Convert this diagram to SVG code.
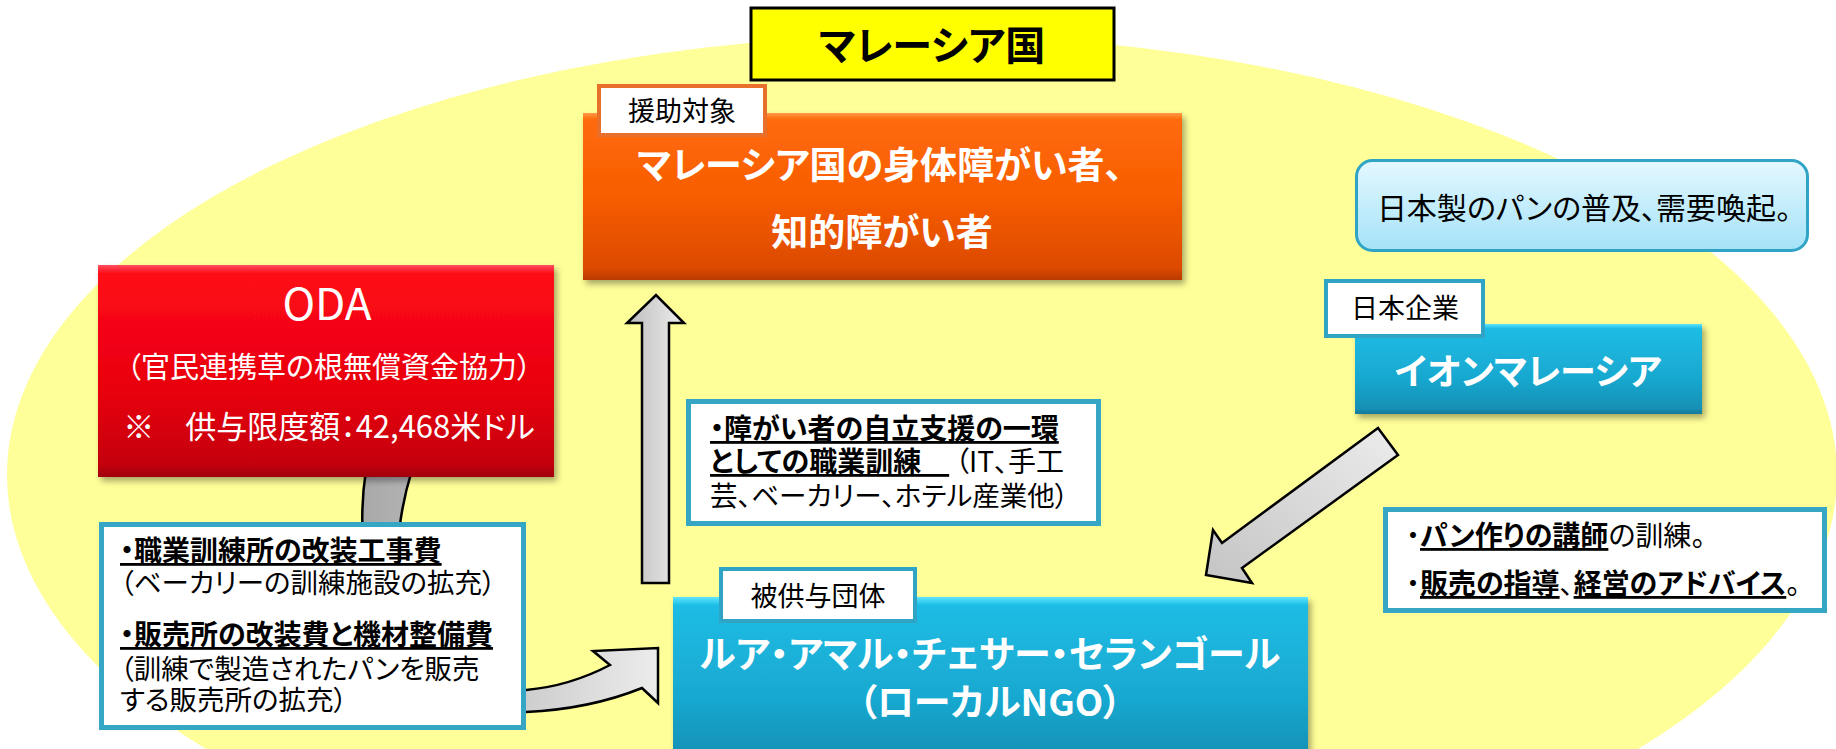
<svg xmlns="http://www.w3.org/2000/svg" width="1836" height="749" viewBox="0 0 1836 749">
<defs>
<style>
text { font-family: "Noto Sans CJK JP", "Noto Sans", sans-serif; font-feature-settings: "palt" 1; }
.w { fill: #ffffff; }
.k { fill: #000000; }
.b { font-weight: bold; }
.u { text-decoration: underline; }
.mid { text-anchor: middle; }
.tabO { fill: #ffffff; stroke: #e8702a; stroke-width: 4; }
.tabB { fill: #ffffff; stroke: #30a4c4; stroke-width: 4; }
.tbox { fill: #ffffff; stroke: #35a6c4; stroke-width: 5; }
.arrow { stroke: #000000; stroke-width: 2.5; stroke-linejoin: miter; }
</style>
<linearGradient id="gOrange" x1="0" y1="0" x2="0" y2="1">
<stop offset="0" stop-color="#ff9a4a"/><stop offset="0.04" stop-color="#ff6a08"/><stop offset="0.5" stop-color="#f85d05"/><stop offset="0.93" stop-color="#dc4a03"/><stop offset="1" stop-color="#b83a00"/>
</linearGradient>
<linearGradient id="gRed" x1="0" y1="0" x2="0" y2="1">
<stop offset="0" stop-color="#ff5060"/><stop offset="0.04" stop-color="#ff0a18"/><stop offset="0.6" stop-color="#e8000f"/><stop offset="0.94" stop-color="#c4000c"/><stop offset="1" stop-color="#a0000a"/>
</linearGradient>
<linearGradient id="gBlue" x1="0" y1="0" x2="0" y2="1">
<stop offset="0" stop-color="#5ee6ff"/><stop offset="0.05" stop-color="#1cbce4"/><stop offset="0.6" stop-color="#19a8d0"/><stop offset="0.94" stop-color="#1890b4"/><stop offset="1" stop-color="#15789a"/>
</linearGradient>
<linearGradient id="gLight" x1="0" y1="0" x2="0" y2="1">
<stop offset="0" stop-color="#e4f8ff"/><stop offset="1" stop-color="#a4e2f8"/>
</linearGradient>
<linearGradient id="gGrayV" x1="0" y1="0" x2="1" y2="0">
<stop offset="0" stop-color="#bdbdbd"/><stop offset="1" stop-color="#eeeeee"/>
</linearGradient>
<linearGradient id="gGrayD" x1="0" y1="1" x2="1" y2="0">
<stop offset="0" stop-color="#c4c4c4"/><stop offset="1" stop-color="#ececec"/>
</linearGradient>
<linearGradient id="gGrayC" x1="0" y1="0" x2="1" y2="0">
<stop offset="0" stop-color="#a8a8a8"/><stop offset="1" stop-color="#ececec"/>
</linearGradient>
<filter id="sh" x="-5%" y="-5%" width="115%" height="125%">
<feDropShadow dx="3" dy="4" stdDeviation="3" flood-color="#000000" flood-opacity="0.35"/>
</filter>
</defs>

<ellipse cx="922" cy="475" rx="915" ry="440" fill="#ffff99"/>

<g id="connectors">
<path class="arrow" fill="url(#gGrayC)" d="M 366 470 C 352 560, 372 718, 526 712 Q 590 709, 642 688 L 658 703 L 658 648 L 593 651 L 610 665 Q 570 686, 526 690 C 420 694, 372 600, 412 470 Z"/>
<polygon class="arrow" fill="url(#gGrayV)" points="642,583 642,323 627,323 656,295 684,323 669,323 669,583"/>
<polygon class="arrow" fill="url(#gGrayD)" points="1378,428 1398,455 1242,568 1252,583 1206,575 1213,530 1222,543"/>
</g>

<g id="title">
<rect x="751" y="8" width="363" height="72" fill="#ffff00" stroke="#000000" stroke-width="3"/>
<text class="k b mid" x="932" y="60" font-size="40">マレーシア国</text>
</g>

<g id="target">
<rect x="583" y="113" width="599" height="167" fill="url(#gOrange)" filter="url(#sh)"/>
<rect class="tabO" x="599" y="86" width="166" height="49"/>
<text class="k mid" x="682" y="121" font-size="27">援助対象</text>
<text class="w b mid" x="880" y="179" font-size="37">マレーシア国の身体障がい者、</text>
<text class="w b mid" x="882" y="246" font-size="37">知的障がい者</text>
</g>

<g id="oda">
<rect x="98" y="265" width="456" height="212" fill="url(#gRed)" filter="url(#sh)"/>
<text class="w mid" x="327" y="320" font-size="44">ODA</text>
<text class="w mid" x="329" y="378" font-size="29">（官民連携草の根無償資金協力）</text>
<text class="w mid" x="329" y="438" font-size="31">※　供与限度額：42,468米ドル</text>
</g>

<g id="oda-detail">
<rect class="tbox" x="101.5" y="524.5" width="422" height="203"/>
<text class="k b u" x="120" y="561" font-size="28">・職業訓練所の改装工事費</text>
<text class="k" x="120" y="593" font-size="27.5">（ベーカリーの訓練施設の拡充）</text>
<text class="k b u" x="120" y="645" font-size="28">・販売所の改装費と機材整備費</text>
<text class="k" x="120" y="679" font-size="27.5">（訓練で製造されたパンを販売</text>
<text class="k" x="120" y="710" font-size="27.5">する販売所の拡充）</text>
</g>

<g id="training">
<rect class="tbox" x="688.5" y="401.5" width="410" height="122"/>
<text class="k b u" x="710" y="439" font-size="28">・障がい者の自立支援の一環</text>
<text class="k" x="710" y="472" font-size="28"><tspan class="b u">としての職業訓練　</tspan><tspan x="955">（IT、手工</tspan></text>
<text class="k" x="710" y="506" font-size="27.5">芸、ベーカリー、ホテル産業他）</text>
</g>

<g id="bread">
<rect x="1356.5" y="160.5" width="451" height="90" rx="16" fill="url(#gLight)" stroke="#30a4c4" stroke-width="3"/>
<text class="k mid" x="1584" y="219" font-size="30">日本製のパンの普及、需要喚起。</text>
</g>

<g id="aeon">
<rect x="1355" y="324" width="347" height="90" fill="url(#gBlue)" filter="url(#sh)"/>
<rect class="tabB" x="1326" y="281" width="157" height="55"/>
<text class="k mid" x="1405" y="318" font-size="27">日本企業</text>
<text class="w b mid" x="1528" y="385" font-size="36">イオンマレーシア</text>
</g>

<g id="aeon-detail">
<rect class="tbox" x="1385.5" y="509.5" width="439" height="101"/>
<text class="k" x="1406" y="546" font-size="28">・<tspan class="b u" x="1420">パン作りの講師</tspan>の訓練。</text>
<text class="k" x="1406" y="594" font-size="28">・<tspan class="b u" x="1420">販売の指導</tspan>、<tspan class="b u">経営のアドバイス</tspan>。</text>
</g>

<g id="ngo">
<rect x="673" y="597" width="635" height="170" fill="url(#gBlue)" filter="url(#sh)"/>
<rect class="tabB" x="721" y="569" width="194" height="52"/>
<text class="k mid" x="818" y="606" font-size="27">被供与団体</text>
<text class="w b mid" x="990" y="668" font-size="37">ルア・アマル・チェサー・セランゴール</text>
<text class="w b mid" x="990" y="716" font-size="37">（ローカルNGO）</text>
</g>
</svg>
